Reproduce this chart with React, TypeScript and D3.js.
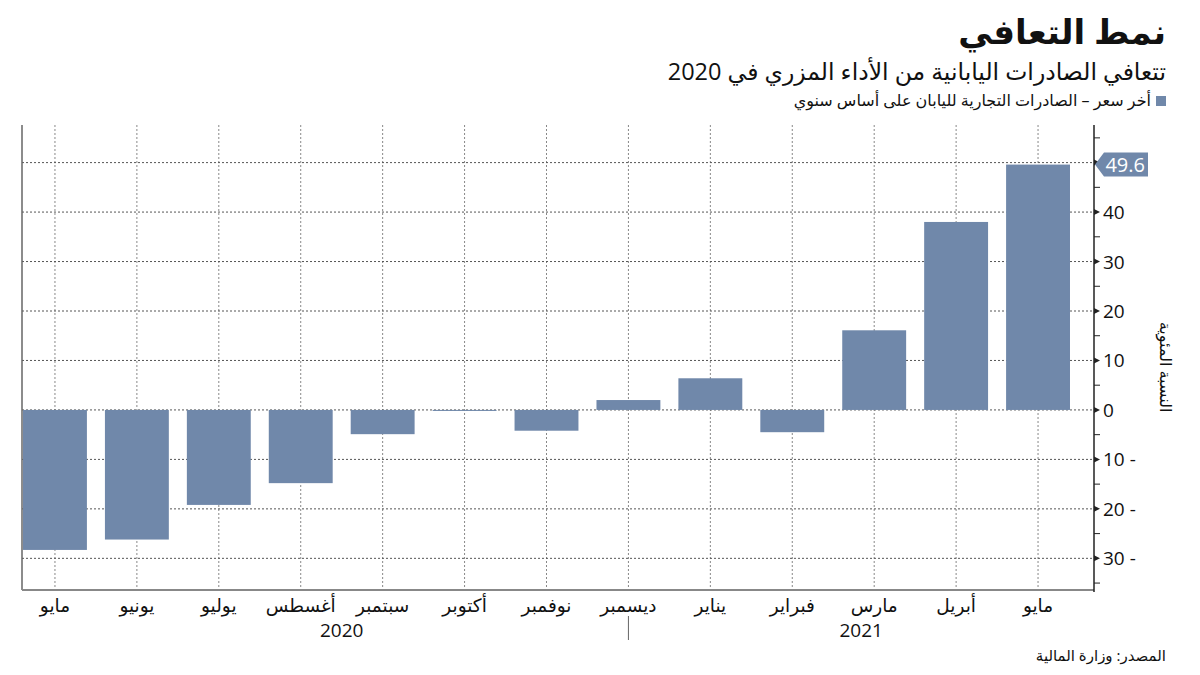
import React from "react";
import * as d3 from "d3";

const months = ["مايو", "يونيو", "يوليو", "أغسطس", "سبتمبر", "أكتوبر", "نوفمبر", "ديسمبر", "يناير", "فبراير", "مارس", "أبريل", "مايو"];
const values = [-28.3, -26.2, -19.2, -14.8, -4.9, -0.2, -4.2, 2.0, 6.4, -4.5, 16.1, 38.0, 49.6];
const yearLabels = ["2020", "2021"];
const majorTicks = [-30, -20, -10, 0, 10, 20, 30, 40, 50];
const labeledTicks = [-30, -20, -10, 0, 10, 20, 30, 40];
const minorTicks = [-35, -25, -15, -5, 5, 15, 25, 35, 45, 55];

const title = "نمط التعافي";
const subtitle = "تتعافي الصادرات اليابانية من الأداء المزري في 2020";
const legendText = "أخر سعر – الصادرات التجارية لليابان على أساس سنوي";
const yTitle = "النسبة المئوية";
const source = "المصدر: وزارة المالية";
const lastLabel = "49.6";

const W = 1200;
const H = 675;
const left = 22;
const axisX = 1094;
const top = 125;
const bottom = 590;
const barColor = "#7088aa";
const font = "'Open Sans', 'DejaVu Sans', sans-serif";

export default function App() {
  const keys = months.map((_, i) => String(i));
  const x = d3.scaleBand<string>().domain(keys).range([14, 1079]).paddingInner(0.22).paddingOuter(0.11);
  const y = d3.scaleLinear().domain([-36.4, 57.6]).range([bottom, top]);
  const cx = (i: number) => (x(String(i)) as number) + x.bandwidth() / 2;
  const sepX = cx(7);
  const yearX = [(cx(0) + cx(7)) / 2, (sepX + axisX) / 2];
  const lastV = values[values.length - 1];
  const yl = y(lastV);

  return (
    <svg width={W} height={H} style={{ position: "absolute", left: 0, top: 0, background: "#fff" }} fontFamily={font}>
      <rect width={W} height={H} fill="#fff" />
      {/* Title block */}
      <text x={1166} y={44} direction="rtl" textAnchor="start" fontSize={34} fontWeight={700} fill="#111">{title}</text>
      <text x={1166} y={80} direction="rtl" textAnchor="start" fontSize={23.5} fill="#111">{subtitle}</text>
      <rect x={1156} y={96} width={10} height={10} fill={barColor} />
      <text x={1151} y={106} direction="rtl" textAnchor="start" fontSize={16} fill="#111">{legendText}</text>

      {/* gridlines */}
      {months.map((_, i) => (
        <line key={"vg" + i} x1={cx(i)} x2={cx(i)} y1={top} y2={bottom} stroke="#888" strokeWidth={1} strokeDasharray="2,2" />
      ))}
      {majorTicks.map((t) => (
        <line key={"hg" + t} x1={left} x2={axisX} y1={y(t)} y2={y(t)} stroke="#555" strokeWidth={1} strokeDasharray="2,2" />
      ))}

      {/* bars */}
      {values.map((v, i) => (
        <rect
          key={"b" + i}
          x={x(String(i))}
          width={x.bandwidth()}
          y={Math.min(y(v), y(0))}
          height={Math.max(1, Math.abs(y(v) - y(0)))}
          fill={barColor}
        />
      ))}

      {/* frame lines */}
      <line x1={left} x2={left} y1={top} y2={bottom} stroke="#666" strokeWidth={1.5} />
      <line x1={left} x2={axisX} y1={bottom} y2={bottom} stroke="#888" strokeWidth={2} />
      <line x1={axisX} x2={axisX} y1={top} y2={bottom + 2} stroke="#222" strokeWidth={1.5} />

      {/* y ticks */}
      {minorTicks.map((t) => (
        <line key={"mt" + t} x1={axisX} x2={axisX + 6} y1={y(t)} y2={y(t)} stroke="#222" strokeWidth={1} />
      ))}
      {majorTicks.map((t) => (
        <path key={"tk" + t} d={`M${axisX},${y(t) - 3}L${axisX + 6},${y(t)}L${axisX},${y(t) + 3}Z`} fill="#222" />
      ))}
      {labeledTicks.map((t) => (
        <text key={"tl" + t} x={axisX + 9} y={y(t) + 7} fontSize={19} fill="#111" textAnchor="start">
          {t < 0 ? `${Math.abs(t)} -` : String(t)}
        </text>
      ))}

      {/* last value tag */}
      <path
        d={`M${axisX + 1},${yl}L${axisX + 10},${yl - 12}L${1148},${yl - 12}L${1148},${yl + 12}L${axisX + 10},${yl + 12}Z`}
        fill={barColor}
      />
      <text x={1145} y={yl + 7} textAnchor="end" fontSize={20} fill="#fff">{lastLabel}</text>

      {/* y title */}
      <text
        transform={`translate(1160, 367) rotate(90)`}
        direction="rtl"
        textAnchor="middle"
        fontSize={16}
        fill="#111"
      >
        {yTitle}
      </text>

      {/* x labels */}
      {months.map((m, i) => (
        <text key={"xl" + i} x={cx(i)} y={612} textAnchor="middle" direction="rtl" fontSize={18.5} fill="#111">{m}</text>
      ))}
      <line x1={sepX} x2={sepX} y1={616} y2={640} stroke="#666" strokeWidth={1} />
      {yearLabels.map((yr, i) => (
        <text key={"yr" + i} x={yearX[i]} y={637} textAnchor="middle" fontSize={19} fill="#111">{yr}</text>
      ))}

      {/* source */}
      <text x={1166} y={661} direction="rtl" textAnchor="start" fontSize={15} fill="#111">{source}</text>
    </svg>
  );
}
